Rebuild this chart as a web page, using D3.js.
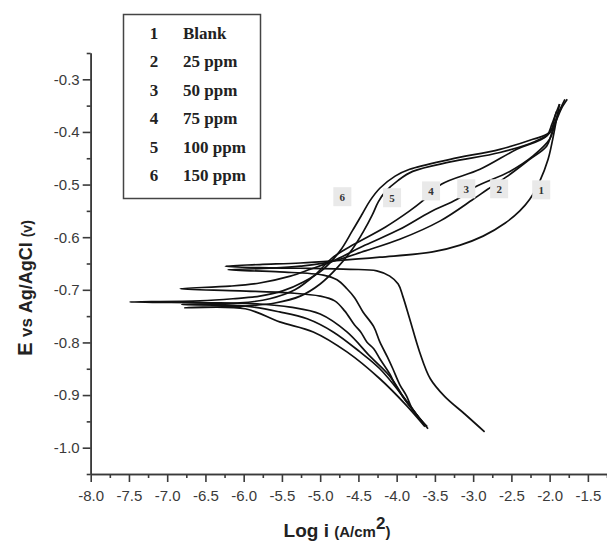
<!DOCTYPE html>
<html>
<head>
<meta charset="utf-8">
<script src="https://cdn.jsdelivr.net/npm/d3@7"></script>
<style>
  body { margin: 0; background: #fff; }
  .tick text { font-family: "Liberation Sans", Arial, sans-serif; font-size: 15px; fill: #3a3a3a; }
  .axis path, .axis line { stroke: #3a3a3a; stroke-width: 1.6px; }
</style>
</head>
<body>
<div id="chart"></div>
<script>
// Tafel curves: [log i (A/cm2), E (V vs Ag/AgCl)], cathodic end -> Ecorr tip -> anodic end
const blank = [[-2.85,-0.970],[-3.11,-0.936],[-3.37,-0.903],[-3.56,-0.869],[-3.70,-0.818],[-3.83,-0.755],
  [-3.92,-0.712],[-3.98,-0.689],[-4.09,-0.674],[-4.26,-0.664],[-4.61,-0.661],[-5.26,-0.659],[-5.79,-0.658],
  [-6.24,-0.655],[-5.79,-0.652],[-5.26,-0.649],[-4.83,-0.645],[-4.22,-0.638],[-3.53,-0.628],[-3.17,-0.615],
  [-2.87,-0.598],[-2.58,-0.573],[-2.39,-0.550],[-2.26,-0.528],[-2.13,-0.494],[-2.02,-0.452],[-1.96,-0.414],
  [-1.91,-0.376],[-1.87,-0.347]];
const ppm25 = [[-3.60,-0.960],[-3.66,-0.951],[-3.80,-0.925],[-3.87,-0.902],[-3.96,-0.880],[-4.05,-0.850],
  [-4.12,-0.828],[-4.22,-0.799],[-4.30,-0.770],[-4.44,-0.742],[-4.55,-0.715],[-4.65,-0.698],[-4.78,-0.681],
  [-4.96,-0.672],[-5.53,-0.666],[-6.21,-0.662],[-5.66,-0.659],[-5.26,-0.655],
  [-4.87,-0.647],[-4.41,-0.626],[-3.96,-0.604],[-3.43,-0.569],[-3.00,-0.528],[-2.81,-0.509],[-2.55,-0.484],
  [-2.26,-0.452],[-2.04,-0.427],[-1.97,-0.401],[-1.89,-0.366],[-1.80,-0.338]];
const ppm50 = [[-3.63,-0.958],[-3.70,-0.945],[-3.83,-0.920],[-3.92,-0.903],[-4.02,-0.880],[-4.09,-0.860],
  [-4.22,-0.831],[-4.30,-0.812],[-4.39,-0.799],[-4.47,-0.780],[-4.55,-0.767],[-4.68,-0.740],[-4.81,-0.721],
  [-5.00,-0.712],[-5.39,-0.706],[-6.05,-0.702],[-6.83,-0.698],
  [-6.18,-0.693],[-5.79,-0.687],[-5.39,-0.674],[-5.13,-0.661],[-4.83,-0.645],[-4.41,-0.615],[-3.96,-0.585],
  [-3.56,-0.552],[-3.21,-0.528],[-2.98,-0.505],[-2.52,-0.475],[-2.22,-0.446],[-2.00,-0.414],[-1.93,-0.385],
  [-1.84,-0.353]];
const ppm75 = [[-3.67,-0.951],[-3.92,-0.902],[-4.22,-0.850],[-4.48,-0.818],[-4.83,-0.780],[-5.17,-0.755],
  [-5.53,-0.742],[-5.98,-0.731],[-6.81,-0.728],[-6.05,-0.725],[-5.66,-0.717],[-5.33,-0.700],[-5.07,-0.672],
  [-4.83,-0.638],[-4.55,-0.613],[-4.15,-0.581],[-3.83,-0.550],[-3.66,-0.531],[-3.41,-0.499],[-2.91,-0.471],
  [-2.43,-0.433],[-2.04,-0.408],[-1.97,-0.385],[-1.91,-0.361]];
const ppm100 = [[-3.63,-0.960],[-3.87,-0.920],[-4.22,-0.869],[-4.65,-0.818],[-5.09,-0.780],[-5.53,-0.761],
  [-5.98,-0.736],[-6.77,-0.734],[-6.01,-0.731],[-5.59,-0.725],[-5.26,-0.712],[-5.00,-0.689],[-4.77,-0.657],
  [-4.58,-0.623],[-4.43,-0.588],[-4.32,-0.558],[-4.24,-0.533],[-4.15,-0.514],[-3.98,-0.492],[-3.79,-0.475],
  [-3.30,-0.457],[-2.65,-0.439],[-2.19,-0.418],[-2.00,-0.402],[-1.92,-0.366],[-1.87,-0.347]];
const ppm150 = [[-3.59,-0.964],[-3.64,-0.955],[-3.87,-0.913],[-4.09,-0.864],[-4.35,-0.826],[-4.65,-0.780],
  [-5.00,-0.746],[-5.39,-0.733],[-5.79,-0.727],[-6.31,-0.725],[-7.49,-0.723],[-6.57,-0.721],[-6.14,-0.717],
  [-5.79,-0.712],[-5.49,-0.702],[-5.22,-0.685],[-4.96,-0.661],[-4.74,-0.626],[-4.58,-0.588],[-4.45,-0.556],
  [-4.35,-0.531],[-4.22,-0.507],[-4.02,-0.484],[-3.83,-0.471],[-3.30,-0.452],[-2.65,-0.433],[-2.22,-0.414],
  [-2.00,-0.401],[-1.87,-0.361],[-1.77,-0.338]];

const curves = [blank, ppm25, ppm50, ppm75, ppm100, ppm150];
const curveIds = ["1", "2", "3", "4", "5", "6"];
const legendNames = ["Blank", "25 ppm", "50 ppm", "75 ppm", "100 ppm", "150 ppm"];
// where each curve number sits on the plot [log i, E]
const labelAt = [[-2.11,-0.511],[-2.66,-0.509],[-3.09,-0.509],[-3.55,-0.513],[-4.06,-0.526],[-4.71,-0.524]];

const xTicks = [-8.0,-7.5,-7.0,-6.5,-6.0,-5.5,-5.0,-4.5,-4.0,-3.5,-3.0,-2.5,-2.0,-1.5];
const yTicks = [-1.0,-0.9,-0.8,-0.7,-0.6,-0.5,-0.4,-0.3];

const W = 607, H = 544;
const svg = d3.select("#chart").append("svg")
  .attr("width", W).attr("height", H)
  .style("font-family", "'Liberation Sans', Arial, sans-serif");

const x = d3.scaleLinear().domain([-8, -1.25]).range([90.7, 607]);
const y = d3.scaleLinear().domain([-1.05, -0.25]).range([474, 53]);

// minor ticks halfway between the labelled ones
const xMinor = xTicks.map(d => d + 0.25);
const yMinor = [-1.05].concat(yTicks.map(d => d + 0.05));

// axes
svg.append("g").attr("class", "axis")
  .attr("transform", `translate(0,${y(-1.05)})`)
  .call(d3.axisBottom(x).tickValues(xMinor).tickSize(4).tickSizeOuter(0).tickFormat(""));
svg.append("g").attr("class", "axis")
  .attr("transform", `translate(0,${y(-1.05)})`)
  .call(d3.axisBottom(x).tickValues(xTicks).tickSize(8).tickSizeOuter(0).tickPadding(8)
    .tickFormat(d => d.toFixed(1)));

svg.append("g").attr("class", "axis")
  .attr("transform", `translate(${x(-8)},0)`)
  .call(d3.axisLeft(y).tickValues(yMinor).tickSize(4).tickSizeOuter(0).tickFormat(""));
svg.append("g").attr("class", "axis")
  .attr("transform", `translate(${x(-8)},0)`)
  .call(d3.axisLeft(y).tickValues(yTicks).tickSize(8).tickSizeOuter(0).tickPadding(3)
    .tickFormat(d => d.toFixed(1)));

// curves
const line = d3.line()
  .x(d => x(d[0]))
  .y(d => y(d[1]))
  .curve(d3.curveCatmullRom.alpha(0.5));

svg.append("g").selectAll("path")
  .data(curves)
  .join("path")
  .attr("d", line)
  .attr("fill", "none")
  .attr("stroke", "#111")
  .attr("stroke-width", 1.7);

// curve number tags
const tags = svg.append("g").selectAll("g")
  .data(labelAt)
  .join("g")
  .attr("transform", d => `translate(${x(d[0])},${y(d[1])})`);
tags.append("rect")
  .attr("x", -9).attr("y", -10).attr("width", 18).attr("height", 19)
  .attr("fill", "#e9e9e9");
tags.append("text")
  .attr("text-anchor", "middle").attr("y", 4)
  .style("font-family", "'Liberation Serif', 'Times New Roman', serif")
  .style("font-weight", "bold").style("font-size", "11px").attr("fill", "#333")
  .text((d, i) => curveIds[i]);

// legend
const legend = svg.append("g");
legend.append("rect")
  .attr("x", 123.5).attr("y", 14.5).attr("width", 137).attr("height", 184)
  .attr("fill", "#fff").attr("stroke", "#444").attr("stroke-width", 1.5);
const rows = legend.selectAll("g.row")
  .data(legendNames)
  .join("g").attr("class", "row")
  .attr("transform", (d, i) => `translate(0,${39 + i * 28.4})`)
  .style("font-family", "'Liberation Serif', 'Times New Roman', serif")
  .style("font-weight", "bold").style("font-size", "17px").attr("fill", "#222");
rows.append("text").attr("x", 154).attr("text-anchor", "middle").text((d, i) => curveIds[i]);
rows.append("text").attr("x", 183).text(d => d);

// axis titles
const xt = svg.append("text")
  .attr("x", 337).attr("y", 537).attr("text-anchor", "middle")
  .style("font-weight", "bold").attr("fill", "#222");
xt.append("tspan").style("font-size", "19px").text("Log i ");
xt.append("tspan").style("font-size", "15px").text("(A/cm");
xt.append("tspan").style("font-size", "17px").attr("dy", -8).text("2");
xt.append("tspan").style("font-size", "15px").attr("dy", 8).text(")");

const yt = svg.append("text")
  .attr("transform", "translate(32,288) rotate(-90)")
  .attr("text-anchor", "middle")
  .style("font-weight", "bold").attr("fill", "#222");
yt.append("tspan").style("font-size", "20px").text("E ");
yt.append("tspan").style("font-size", "17px").text("vs ");
yt.append("tspan").style("font-size", "18px").text("Ag/AgCl ");
yt.append("tspan").style("font-size", "14px").text("(v)");
</script>
</body>
</html>
